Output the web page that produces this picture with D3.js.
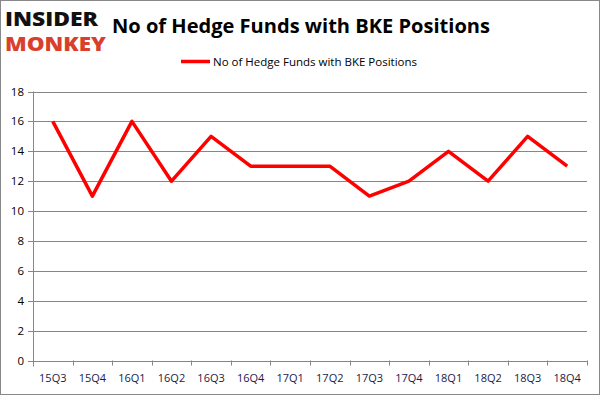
<!DOCTYPE html>
<html><head><meta charset="utf-8">
<script src="https://cdn.jsdelivr.net/npm/d3@7"></script>
<style>body{margin:0;background:#fff}svg{display:block}text{font-family:"Open Sans","Liberation Sans",sans-serif}</style>
</head><body>
<svg id="c" width="601" height="396"></svg>
<script>
const categories = ["15Q3","15Q4","16Q1","16Q2","16Q3","16Q4","17Q1","17Q2","17Q3","17Q4","18Q1","18Q2","18Q3","18Q4"];
const values = [16,11,16,12,15,13,13,13,11,12,14,12,15,13];
const yTicks = [0,2,4,6,8,10,12,14,16,18];
const seriesName = "No of Hedge Funds with BKE Positions";
const title = "No of Hedge Funds with BKE Positions";

const svg = d3.select("#c");
svg.append("rect").attr("x",0.5).attr("y",0.5).attr("width",599).attr("height",394)
  .attr("fill","#fff").attr("stroke","#888").attr("stroke-width",1);

const L=33, R=587, T=91.5, B=360.5;
const x = d3.scaleBand().domain(categories).range([L,R]);
const y = d3.scaleLinear().domain([0,18]).range([B,T]);

svg.append("g").selectAll("line").data(yTicks).join("line")
  .attr("x1",L-5).attr("x2",R).attr("y1",d=>Math.round(y(d))+0.5).attr("y2",d=>Math.round(y(d))+0.5)
  .attr("stroke","#868686").attr("stroke-width",1);
svg.append("line").attr("x1",L+0.5).attr("x2",L+0.5).attr("y1",T).attr("y2",B+6).attr("stroke","#868686");
const xt = categories.map((c,i)=>i).concat([categories.length]);
svg.append("g").selectAll("line").data(xt).join("line")
  .attr("x1",i=>Math.round(L+i*x.step())+0.5).attr("x2",i=>Math.round(L+i*x.step())+0.5)
  .attr("y1",B).attr("y2",B+5).attr("stroke","#868686");
svg.append("g").selectAll("text").data(yTicks).join("text")
  .attr("x",L-9).attr("y",d=>y(d)+4).attr("text-anchor","end")
  .attr("font-size",11.5).attr("fill","#000").text(d=>d);
svg.append("g").selectAll("text").data(categories).join("text")
  .attr("x",d=>x(d)+x.bandwidth()/2).attr("y",B+21).attr("text-anchor","middle")
  .attr("font-size",11).attr("fill","#1a1a4a").text(d=>d);

const line = d3.line().x((d,i)=>x(categories[i])+x.bandwidth()/2).y(d=>y(d));
svg.append("path").datum(values).attr("d",line).attr("fill","none")
  .attr("stroke","#ff0000").attr("stroke-width",3.5).attr("stroke-linejoin","round");

svg.append("text").attr("x",301).attr("y",33).attr("text-anchor","middle")
  .attr("font-size",20).attr("font-weight","bold").attr("fill","#000")
  .attr("textLength",378).attr("lengthAdjust","spacingAndGlyphs").text(title);

svg.append("line").attr("x1",181).attr("x2",210).attr("y1",61.5).attr("y2",61.5)
  .attr("stroke","#ff0000").attr("stroke-width",3.5);
svg.append("text").attr("x",213).attr("y",65.5).attr("font-size",11.5).attr("fill","#000").text(seriesName);

// logo
svg.append("text").attr("x",5).attr("y",25.5).attr("font-size",18.5).attr("font-weight","900")
  .attr("font-family","DejaVu Sans").attr("fill","#111")
  .attr("textLength",93).attr("lengthAdjust","spacingAndGlyphs").text("INSIDER");
svg.append("text").attr("x",5).attr("y",51).attr("font-size",18.5).attr("font-weight","900")
  .attr("font-family","DejaVu Sans").attr("fill","#d8402b")
  .attr("textLength",101).attr("lengthAdjust","spacingAndGlyphs").text("MONKEY");
</script>
</body></html>
